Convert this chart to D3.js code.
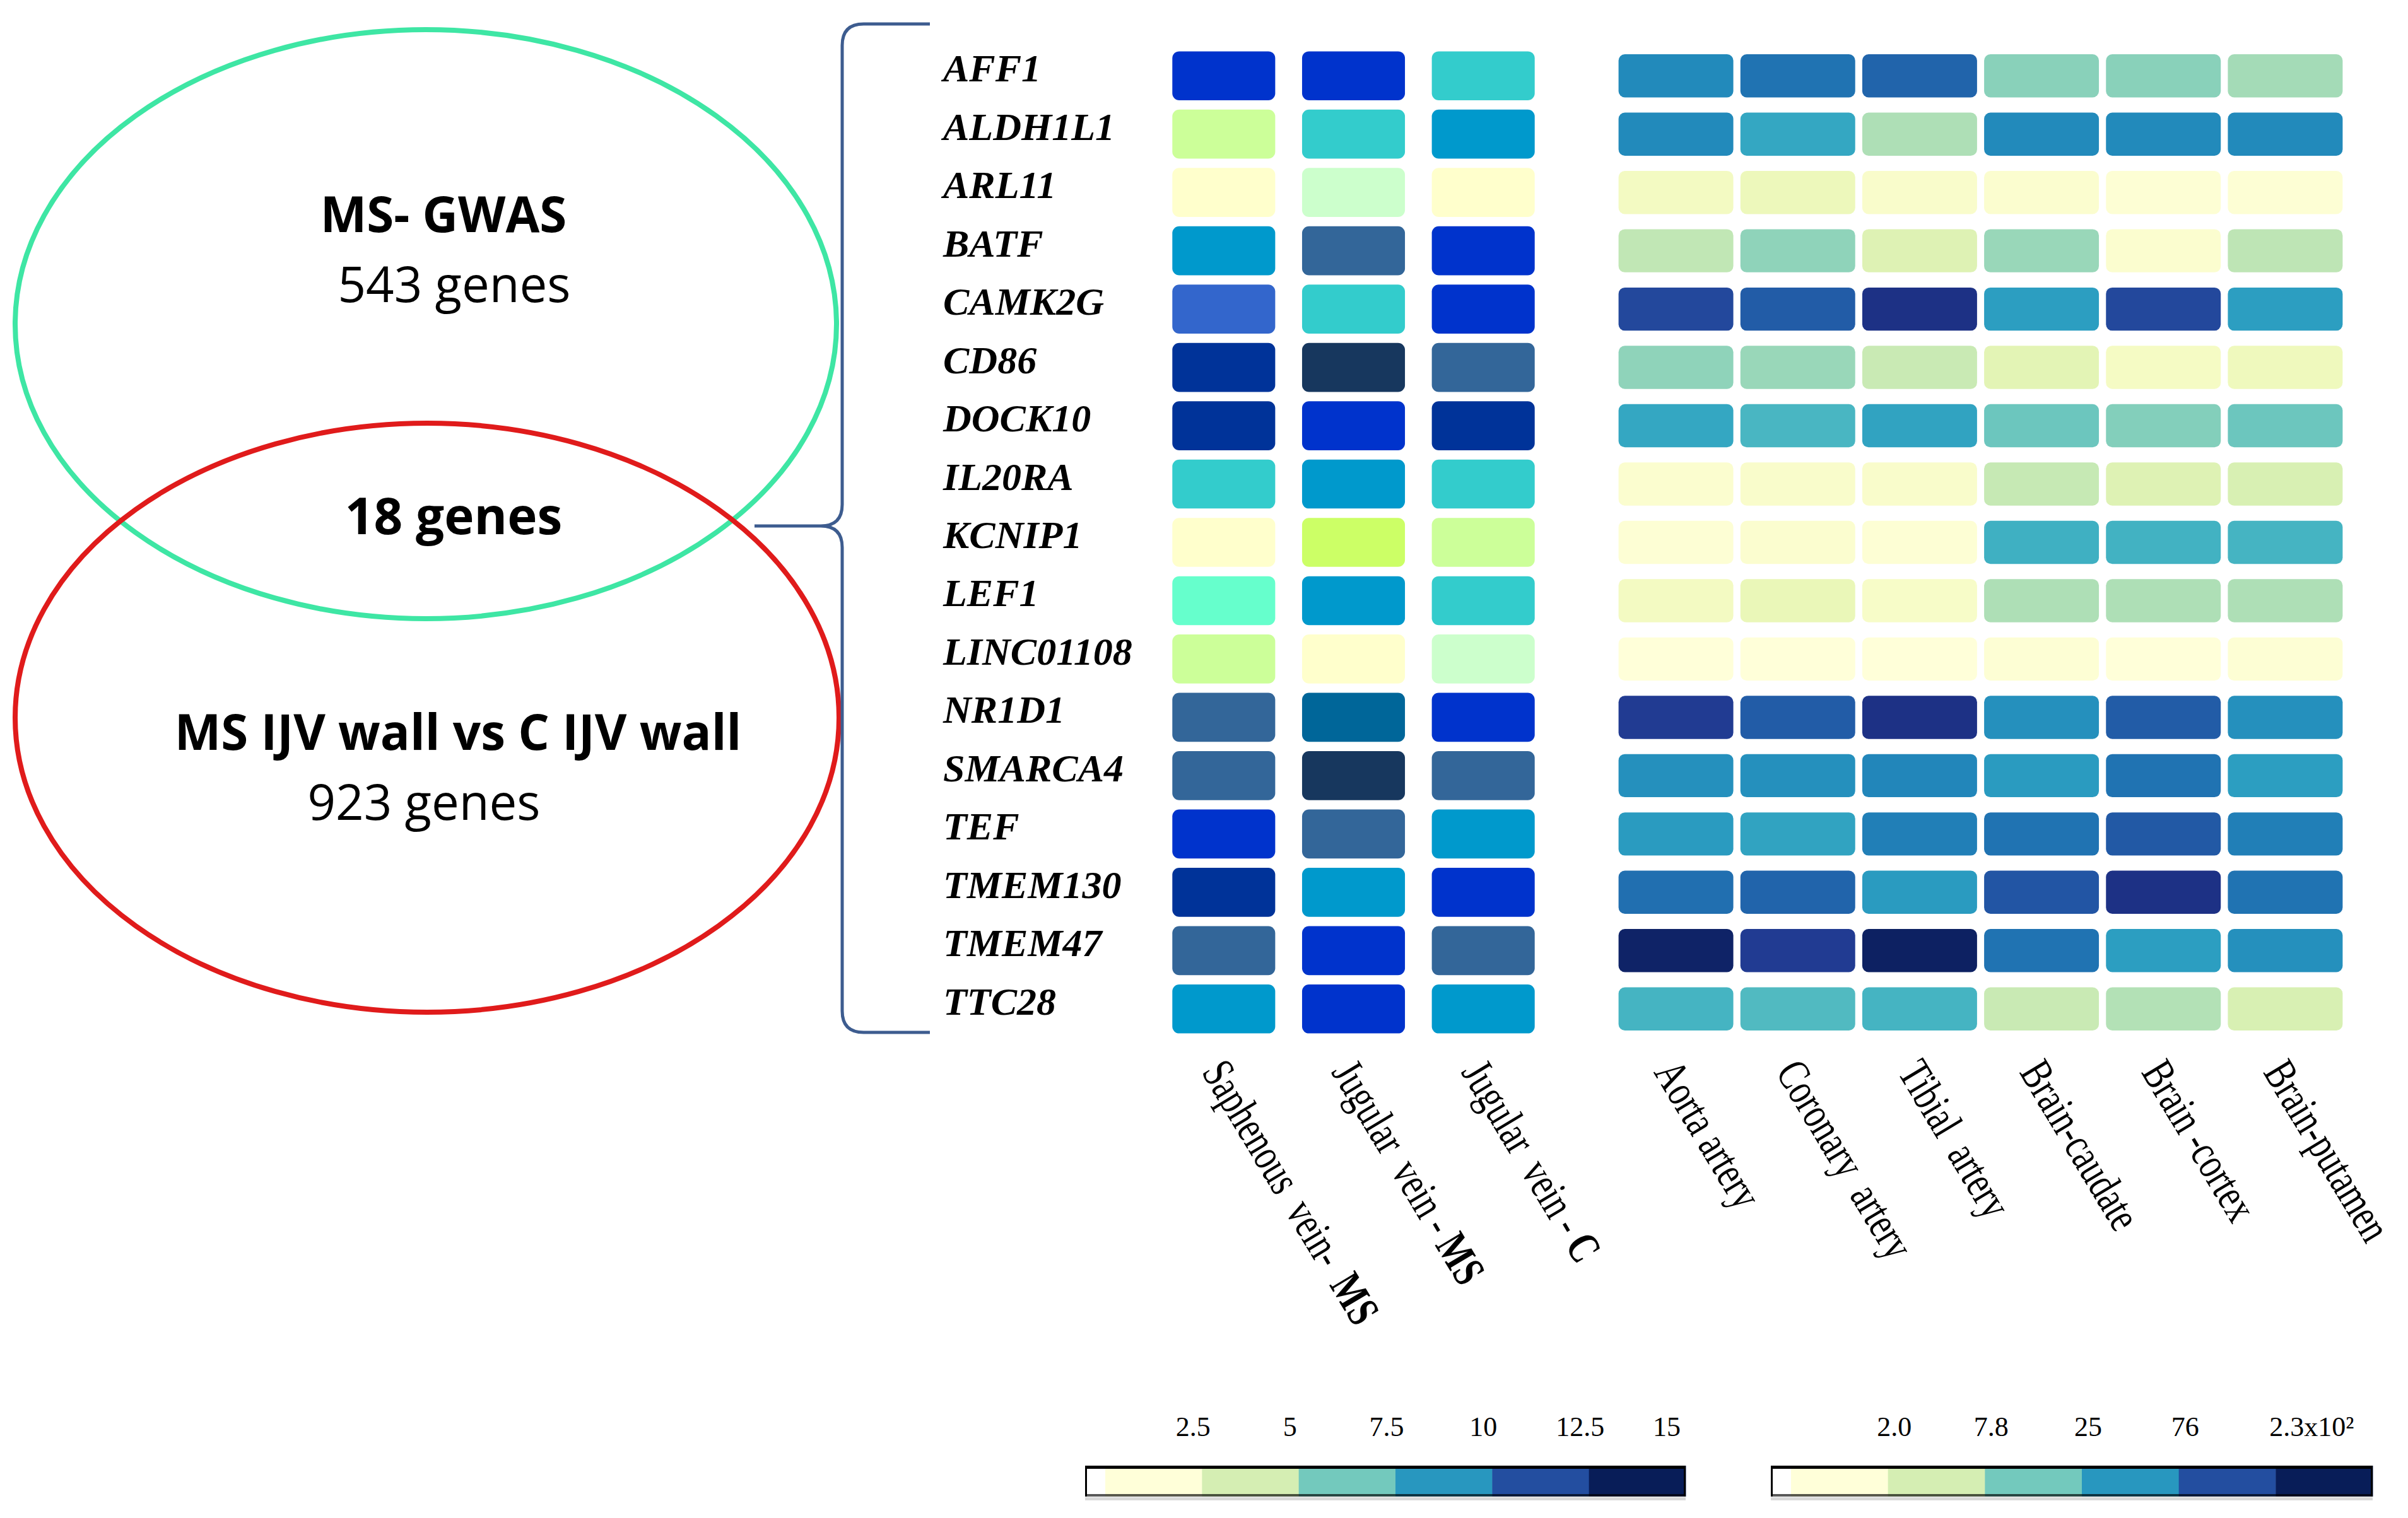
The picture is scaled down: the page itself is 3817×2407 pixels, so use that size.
<!DOCTYPE html>
<html>
<head>
<meta charset="utf-8">
<script src="https://cdn.jsdelivr.net/npm/d3@7"></script>
<style>
  body { margin: 0; background: #fff; }
  text { white-space: pre; }
</style>
</head>
<body>
<svg id="chart" width="3817" height="2407"></svg>
<script>
// ---- data ----
const genes = ["AFF1", "ALDH1L1", "ARL11", "BATF", "CAMK2G", "CD86", "DOCK10", "IL20RA", "KCNIP1",
  "LEF1", "LINC01108", "NR1D1", "SMARCA4", "TEF", "TMEM130", "TMEM47", "TTC28"]

const leftCols = ["Saphenous  vein-  ", "Jugular  vein - ", "Jugular  vein - "]
const leftColTags = ["MS", "MS", "C"]
const rightCols = ["Aorta artery", "Coronary  artery", "Tibial  artery", "Brain-caudate", "Brain -cortex", "Brain-putamen"]

// vein expression (saphenous MS, jugular MS, jugular C)
const leftValues = [
  [10.4, 10.6, 5.5],
  [2.5, 5.4, 6.5],
  [0.4, 1.3, 0.6],
  [6.6, 8.4, 10.7],
  [7.5, 5.6, 10.5],
  [11.4, 12.6, 8.5],
  [11.5, 10.3, 11.2],
  [5.3, 6.4, 5.5],
  [0.5, 3.5, 2.6],
  [4.5, 6.3, 5.4],
  [2.4, 0.3, 1.5],
  [8.3, 9.5, 10.6],
  [8.6, 12.4, 8.4],
  [10.5, 8.5, 6.7],
  [11.3, 6.5, 10.4],
  [8.5, 10.5, 8.6],
  [6.5, 10.4, 6.6]
]

// GTEx tissue expression
const rightValues = [
  [46, 66, 83, 8.6, 8.6, 6.4],
  [46, 27, 5.7, 46, 46, 46],
  [1.6, 1.9, 1.3, 1.2, 1.1, 1.1],
  [4.5, 8.1, 2.8, 7.2, 1.2, 4.7],
  [135, 94, 219, 32, 135, 32],
  [8.1, 7.2, 4.0, 2.5, 1.5, 1.8],
  [27, 19, 29, 12, 9.2, 12],
  [1.2, 1.3, 1.3, 4.2, 2.8, 3.1],
  [1.1, 1.2, 1.1, 22, 21, 20],
  [1.6, 2.1, 1.4, 5.7, 5.7, 5.7],
  [1.0, 1.0, 1.0, 1.1, 1.0, 1.1],
  [172, 94, 219, 41, 94, 41],
  [41, 41, 49, 34, 66, 32],
  [34, 29, 55, 66, 100, 55],
  [70, 83, 34, 106, 219, 66],
  [333, 172, 354, 66, 32, 41],
  [20, 17, 20, 4.0, 5.4, 3.1]
]

const leftPalette = ["#ffffcc", "#ccffcc", "#ccff99", "#ccff66", "#66ffcc", "#33cccc", "#0099cc",
  "#3366cc", "#336699", "#006699", "#0033cc", "#003399", "#17375e"]
const leftThresholds = [1, 2, 3, 4, 5, 6, 7, 8, 9, 10, 11, 12]

const leftLegendTicks = ["2.5", "5", "7.5", "10", "12.5", "15"]
const rightLegendTicks = ["2.0", "7.8", "25", "76", "2.3x10²"]

const vennTitles = ["MS- GWAS", "MS IJV wall vs C IJV wall"]
const vennCounts = ["543 genes", "923 genes"]
const overlapLabel = "18 genes"

// ---- setup ----
const svg = d3.select('#chart')

const y = d3.scaleBand()
  .domain(genes)
  .range([74, 1646])
  .paddingInner(0.16)
  .paddingOuter(0.08)

const yRight = d3.scaleBand()
  .domain(genes)
  .range([74, 1646])
  .paddingInner(0.26)
  .paddingOuter(0.13)

const xLeft = d3.scaleBand()
  .domain(d3.range(leftCols.length))
  .range([1837, 2454])
  .paddingInner(0.207)
  .paddingOuter(0.1035)

const xRight = d3.scaleBand()
  .domain(d3.range(rightCols.length))
  .range([2560, 3719])
  .paddingInner(0.058)
  .paddingOuter(0.029)

const leftColor = d3.scaleThreshold()
  .domain(leftThresholds)
  .range(leftPalette)

const rightColor = d3.scaleSequentialLog(d3.interpolateYlGnBu)
  .domain([1, 400])
  .clamp(true)

/**
 * Venn diagram
 */
const venn = svg.append('g')
venn.append('ellipse')
  .attr('cx', 675).attr('cy', 514).attr('rx', 651).attr('ry', 467)
  .attr('fill', 'none').attr('stroke', '#3ee6a4').attr('stroke-width', 8)
venn.append('ellipse')
  .attr('cx', 677).attr('cy', 1138).attr('rx', 653).attr('ry', 467)
  .attr('fill', 'none').attr('stroke', '#e01b1b').attr('stroke-width', 8)

const vennFont = '"Open Sans", Lato, sans-serif'
venn.selectAll('text.title')
  .data(vennTitles)
  .join('text')
  .attr('class', 'title')
  .attr('x', (d, i) => [703, 726][i])
  .attr('y', (d, i) => [368, 1189][i])
  .attr('text-anchor', 'middle')
  .attr('font-family', vennFont)
  .attr('font-weight', 'bold')
  .attr('font-size', 78)
  .text(d => d)
venn.selectAll('text.count')
  .data(vennCounts)
  .join('text')
  .attr('class', 'count')
  .attr('x', (d, i) => [720, 672][i])
  .attr('y', (d, i) => [479, 1300][i])
  .attr('text-anchor', 'middle')
  .attr('font-family', vennFont)
  .attr('font-size', 78)
  .text(d => d)
venn.append('text')
  .attr('x', 719).attr('y', 847)
  .attr('text-anchor', 'middle')
  .attr('font-family', vennFont)
  .attr('font-weight', 'bold')
  .attr('font-size', 80)
  .text(overlapLabel)

/**
 * Curly brace linking the overlap to the gene list
 */
const bx = 1335, by0 = 38, by1 = 1637, bmid = 834, r = 34
svg.append('path')
  .attr('d', `M1474,${by0} L${bx + r},${by0} Q${bx},${by0} ${bx},${by0 + r}
    L${bx},${bmid - r} Q${bx},${bmid} ${bx - r},${bmid} L1196,${bmid}
    M${bx - r},${bmid} Q${bx},${bmid} ${bx},${bmid + r}
    L${bx},${by1 - r} Q${bx},${by1} ${bx + r},${by1} L1474,${by1}`)
  .attr('fill', 'none')
  .attr('stroke', '#3d5c8f')
  .attr('stroke-width', 5)

/**
 * Gene labels
 */
svg.append('g')
  .selectAll('text')
  .data(genes)
  .join('text')
  .attr('x', 1495)
  .attr('y', d => y(d) + y.bandwidth() / 2 + 9)
  .attr('font-family', '"Liberation Serif", "Times New Roman", serif')
  .attr('font-style', 'italic')
  .attr('font-weight', 'bold')
  .attr('font-size', 62)
  .text(d => d)

/**
 * Heatmap cells
 */
const leftCells = genes.flatMap((g, i) => leftValues[i].map((v, j) => ({ gene: g, col: j, value: v })))
const rightCells = genes.flatMap((g, i) => rightValues[i].map((v, j) => ({ gene: g, col: j, value: v })))

svg.append('g')
  .selectAll('rect')
  .data(leftCells)
  .join('rect')
  .attr('x', d => xLeft(d.col))
  .attr('y', d => y(d.gene))
  .attr('width', xLeft.bandwidth())
  .attr('height', y.bandwidth())
  .attr('rx', 11)
  .attr('fill', d => leftColor(d.value))

svg.append('g')
  .selectAll('rect')
  .data(rightCells)
  .join('rect')
  .attr('x', d => xRight(d.col))
  .attr('y', d => yRight(d.gene))
  .attr('width', xRight.bandwidth())
  .attr('height', yRight.bandwidth())
  .attr('rx', 10)
  .attr('fill', d => rightColor(d.value))

/**
 * Rotated column labels (narrow Times, as in the original)
 */
const colFont = '"Liberation Serif", "Times New Roman", serif'
const labelY = 1700
const labelTransform = x => `translate(${x - 36},${labelY}) rotate(59) scale(0.74,1)`

svg.append('g')
  .selectAll('text')
  .data(leftCols)
  .join('text')
  .attr('transform', (d, i) => labelTransform(xLeft(i) + xLeft.bandwidth() / 2))
  .attr('font-family', colFont)
  .attr('font-size', 72)
  .each(function(d, i) {
    const t = d3.select(this)
    t.append('tspan').text(d)
    t.append('tspan').attr('font-weight', 'bold').text(leftColTags[i])
  })

svg.append('g')
  .selectAll('text')
  .data(rightCols)
  .join('text')
  .attr('transform', (d, i) => labelTransform(xRight(i) + xRight.bandwidth() / 2))
  .attr('font-family', colFont)
  .attr('font-size', 72)
  .text(d => d)

/**
 * Colour legends
 */
const legendColors = d3.quantize(d3.interpolateYlGnBu, 6)

const drawLegend = (x0, x1, ticks, tickX, anchor) => {
  const band = d3.scaleBand().domain(d3.range(6)).range([x0 + 32, x1])
  const top = 2324, bottom = 2373
  const g = svg.append('g')
  g.append('rect')
    .attr('x', x0).attr('y', top).attr('width', x1 - x0).attr('height', bottom - top)
    .attr('fill', '#fff')
  g.selectAll('rect.sw')
    .data(legendColors)
    .join('rect')
    .attr('class', 'sw')
    .attr('x', (d, i) => band(i))
    .attr('y', top)
    .attr('width', band.bandwidth() + 0.5)
    .attr('height', bottom - top)
    .attr('fill', d => d)
  g.append('rect')
    .attr('x', x0).attr('y', bottom + 1).attr('width', x1 - x0).attr('height', 5)
    .attr('fill', 'rgba(0,0,0,0.15)')
  g.append('rect')
    .attr('x', x0).attr('y', bottom - 4).attr('width', x1 - x0).attr('height', 4)
    .attr('fill', 'rgba(0,0,0,0.65)')
  g.append('rect')
    .attr('x', x0).attr('y', top).attr('width', x1 - x0).attr('height', 5)
    .attr('fill', '#000')
  g.append('rect').attr('x', x0).attr('y', top).attr('width', 3).attr('height', bottom - top).attr('fill', '#000')
  g.append('rect').attr('x', x1 - 3).attr('y', top).attr('width', 3).attr('height', bottom - top).attr('fill', '#000')

  g.selectAll('text')
    .data(ticks)
    .join('text')
    .attr('x', (d, i) => tickX(band, i))
    .attr('y', 2277)
    .attr('text-anchor', (d, i) => anchor(i))
    .attr('font-family', colFont)
    .attr('font-size', 44)
    .text(d => d)
}

drawLegend(1720, 2672, leftLegendTicks,
  (band, i) => band(i) + band.bandwidth() - (i === 5 ? 30 : 14),
  () => 'middle')

drawLegend(2807, 3761, rightLegendTicks,
  (band, i) => i === 4 ? band(i + 1) - 10 : band(i + 1) + 10,
  i => i === 4 ? 'start' : 'middle')
</script>
</body>
</html>
